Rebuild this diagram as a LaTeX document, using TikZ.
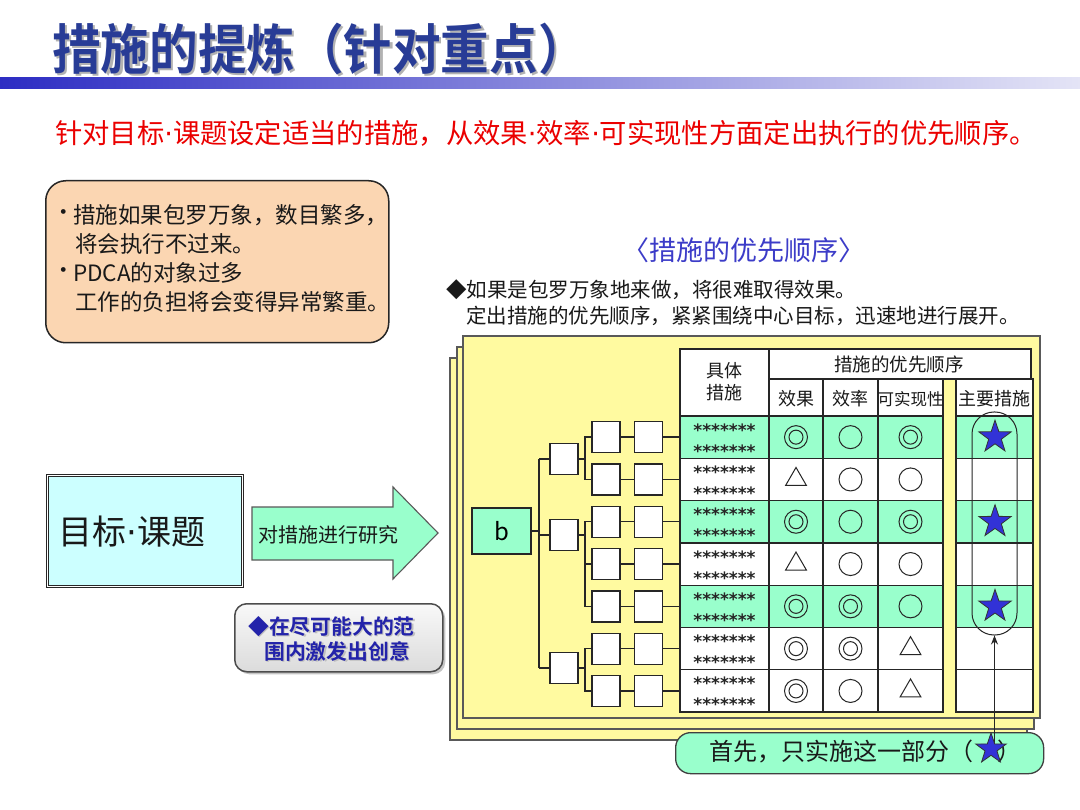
\documentclass[tikz,border=0pt]{standalone}
\usepackage{fontspec}
\setmainfont{Noto Sans CJK SC}[BoldFont={Noto Sans CJK SC Bold}]
\newfontfamily\dejavu{DejaVu Sans}[BoldFont={DejaVu Sans Bold}]
\usetikzlibrary{shapes.geometric,arrows.meta,shadows}
\definecolor{titleblue}{RGB}{40,60,150}
\definecolor{barL}{RGB}{45,45,195}
\definecolor{barM}{RGB}{140,140,215}
\definecolor{barR}{RGB}{228,228,246}
\definecolor{subred}{RGB}{235,0,0}
\definecolor{peach}{RGB}{251,214,178}
\definecolor{cyanbox}{RGB}{204,255,255}
\definecolor{mint}{RGB}{153,255,204}
\definecolor{paperyellow}{RGB}{255,250,160}
\definecolor{starblue}{RGB}{50,50,215}
\definecolor{headblue}{RGB}{60,60,200}
\definecolor{calloutblue}{RGB}{35,35,170}
\newcommand\fsz[2]{\fontsize{#1}{#2}\selectfont}
\newcommand\md{{\dejavu ·}}
\newcommand\shadowed[3]{\rlap{\hspace{#2}\raisebox{-#2}{\color{#3}#1}}#1}
\begin{document}
\begin{tikzpicture}[x=1pt,y=-1pt,
  tbl/.style={draw=black!85, line width=1.3},
  paper/.style={draw=black!65, fill=paperyellow, line width=1.2},
  tbox/.style={draw=black!85, fill=white, line width=1.3, minimum width=28, minimum height=31, inner sep=0},
  conn/.style={draw=black!85, line width=1.4},
  oc/.style={circle, draw=black!85, line width=1, minimum size=23, inner sep=0},
  dc/.style={oc, path picture={\draw[line width=1] (path picture bounding box.center) circle (7pt);}},
  tr/.style={regular polygon, regular polygon sides=3, draw=black!85, line width=1, minimum size=24, inner sep=0},
  bstar/.style={star, star points=5, star point ratio=2.55, minimum size=34, inner sep=0, fill=starblue, draw=black!80, line width=0.8},
  ast/.style={font=\dejavu\bfseries\fsz{17}{19}, anchor=base, inner sep=0, text=black!85},
  txt/.style={inner sep=0, text=black!90},
]
\useasboundingbox (0,0) rectangle (1080,810);
\fill[white] (0,0) rectangle (1080,810);

% title
\node[anchor=west, inner sep=0, text=titleblue, font=\bfseries\fsz{54}{60}] (title) at (52,50) {\scalebox{0.9}[1]{\shadowed{措施的提炼（针对重点）}{2.5pt}{black!30}}};
\shade[left color=barL, middle color=barM, right color=barR] (0,78) rectangle (1080,89);

% subtitle
\node[anchor=west, inner sep=0, text=subred, font=\fsz{27.3}{31}] (sub) at (55,133) {针对目标\md 课题设定适当的措施，从效果\md 效率\md 可实现性方面定出执行的优先顺序。};

% orange box
\node[draw=black!85, fill=peach, rounded corners=20, line width=1.5, minimum width=343, minimum height=162, anchor=north west] (obox) at (45,180) {};
\node[txt, anchor=west, font=\fsz{22.5}{26}] (od1) at (52,215) {·};
\node[txt, anchor=west, font=\fsz{22.5}{26}] (ol1) at (73,215) {措施如果包罗万象，数目繁多，};
\node[txt, anchor=west, font=\fsz{22.5}{26}] (ol2) at (75,244) {将会执行不过来。};
\node[txt, anchor=west, font=\fsz{22.5}{26}] (od3) at (52,273) {·};
\node[txt, anchor=west, font=\fsz{22.5}{26}] (ol3) at (73,273) {PDCA的对象过多};
\node[txt, anchor=west, font=\fsz{22.5}{26}] (ol4) at (75,302) {工作的负担将会变得异常繁重。};

% right heading
\node[inner sep=0, text=headblue, font=\fsz{27}{30}] (prio) at (744,250) {〈措施的优先顺序〉};
\node[txt, anchor=west, font=\fsz{20.5}{24}] (dl1) at (446,290) {◆如果是包罗万象地来做，将很难取得效果。};
\node[txt, anchor=west, font=\fsz{20.5}{24}] (dl2) at (466,316) {定出措施的优先顺序，紧紧围绕中心目标，迅速地进行展开。};

% goal box
\node[draw=black!85, double, double distance=1.6, line width=0.9, fill=cyanbox, minimum width=195, minimum height=111, anchor=north west] (goal) at (47,475) {};
\node[txt, anchor=west, font=\fsz{34}{40}] (goaltxt) at (58,532) {目标\md 课题};

% block arrow
\draw[fill=mint, draw=black!65, line width=1.1] (252,507) -- (393,507) -- (393,487) -- (438,533) -- (393,579) -- (393,560) -- (252,560) -- cycle;
\node[txt, anchor=west, font=\fsz{20}{24}] (arrtxt) at (258,535) {对措施进行研究};

% gray callout
\node[draw=black!70, line width=1.5, rounded corners=12, top color=gray!5, bottom color=gray!28, drop shadow={shadow xshift=2.5pt, shadow yshift=-2.5pt, fill=black!45}, minimum width=208, minimum height=68, anchor=north west] (gcall) at (234,603) {};
\node[inner sep=0, anchor=west, text=calloutblue, font=\bfseries\fsz{20.8}{24}] (gc1) at (248,627) {\shadowed{◆在尽可能大的范}{1.5pt}{black!25}};
\node[inner sep=0, anchor=west, text=calloutblue, font=\bfseries\fsz{20.8}{24}] (gc2) at (264,652) {\shadowed{围内激发出创意}{1.5pt}{black!25}};

% paper stack
\draw[paper] (450,358) rectangle (1027,740);
\draw[paper] (457,347) rectangle (1034,729);
\draw[paper] (463,336) rectangle (1040,718);

% table header
\draw[tbl, fill=white] (680,349) rectangle (769,416);
\draw[tbl, fill=white] (769,349) rectangle (1031,379);
\draw[tbl, fill=white] (769,379) rectangle (823,416);
\draw[tbl, fill=white] (823,379) rectangle (878,416);
\draw[tbl, fill=white] (878,379) rectangle (943,416);
\draw[tbl, fill=white] (956,379) rectangle (1033,416);
\node[txt, align=center, font=\fsz{18}{22}] (hA) at (724.5,382) {具体\\措施};
\node[txt, font=\fsz{18.5}{22}] (hB) at (899,364) {措施的优先顺序};
\node[txt, font=\fsz{18}{22}] (hC1) at (796,399) {效果};
\node[txt, font=\fsz{18}{22}] (hC2) at (850.5,399) {效率};
\node[txt, font=\fsz{16.5}{22}] (hC3) at (910.5,399) {可实现性};
\node[txt, font=\fsz{18}{22}] (hC4) at (994.5,399) {主要措施};

% table rows
\foreach \i/\c in {1/mint,2/white,3/mint,4/white,5/mint,6/white,7/white}{
  \draw[tbl, fill=\c] (680,{416+42.3*(\i-1)}) rectangle (769,{416+42.3*\i});
  \draw[tbl, fill=\c] (769,{416+42.3*(\i-1)}) rectangle (823,{416+42.3*\i});
  \draw[tbl, fill=\c] (823,{416+42.3*(\i-1)}) rectangle (878,{416+42.3*\i});
  \draw[tbl, fill=\c] (878,{416+42.3*(\i-1)}) rectangle (943,{416+42.3*\i});
  \draw[tbl, fill=\c] (956,{416+42.3*(\i-1)}) rectangle (1033,{416+42.3*\i});
  \node[ast] (asta\i) at (724.5,{416+42.3*(\i-0.5)-1}) {*******};
  \node[ast] (astb\i) at (724.5,{416+42.3*(\i-0.5)+20}) {*******};
}
% symbols
\foreach \i/\a/\b/\c in {1/dc/oc/dc,2/tr/oc/oc,3/dc/oc/dc,4/tr/oc/oc,5/dc/dc/oc,6/dc/dc/tr,7/dc/oc/tr}{
  \node[\a] (sa\i) at (796,{416+42.3*(\i-0.5)}) {};
  \node[\b] (sb\i) at (850.5,{416+42.3*(\i-0.5)}) {};
  \node[\c] (sc\i) at (910.5,{416+42.3*(\i-0.5)}) {};
}
% stars in main column
\node[bstar] (star1) at (995,{416+42.3*0.5}) {};
\node[bstar] (star3) at (995,{416+42.3*2.5}) {};
\node[bstar] (star5) at (995,{416+42.3*4.5}) {};
\node[draw=black!85, line width=1, rounded corners=22, minimum width=45, minimum height=223, inner sep=0] (cap) at (994.5,523.5) {};

% tree
\node[tbox, fill=mint, minimum width=59, minimum height=46, font=\fsz{24}{28}] (b) at (501.5,531) {b};
\node[tbox] (A1) at (564,459) {};
\node[tbox] (A2) at (564,535) {};
\node[tbox] (A3) at (564,668) {};
\foreach \i in {1,...,7}{
  \node[tbox] (B\i) at (606,{416+42.3*(\i-0.5)}) {};
  \node[tbox] (C\i) at (648.5,{416+42.3*(\i-0.5)}) {};
  \coordinate (T\i) at (680,{416+42.3*(\i-0.5)});
  \draw[conn] (B\i) -- (C\i);
  \draw[conn] (C\i) -- (T\i);
}
\coordinate (v1) at (539,459);
\coordinate (v3) at (539,668);
\coordinate (j1) at (585,0);
\draw[conn] (v1) -- (v3);
\draw[conn] (b.east) -- (b.east -| v1);
\draw[conn] (v1) -- (A1.west);
\draw[conn] (A2.west -| v1) -- (A2.west);
\draw[conn] (v3) -- (A3.west);
\draw[conn] (A1.east) -- (A1.east -| j1);
\draw[conn] (B1.west) -| (j1 |- B2.west) -- (B2.west);
\draw[conn] (A2.east) -- (A2.east -| j1);
\draw[conn] (B3.west) -| (j1 |- B5.west) -- (B5.west);
\draw[conn] (B4.west -| j1) -- (B4.west);
\draw[conn] (A3.east) -- (A3.east -| j1);
\draw[conn] (B6.west) -| (j1 |- B7.west) -- (B7.west);

% bottom callout
\node[draw=black!75, line width=1.3, fill=mint, rounded corners=15, minimum width=368, minimum height=41, anchor=north west] (bcall) at (675,732) {};
\node[txt, anchor=west, font=\fsz{24}{28}] (bctxt) at (709,752) {首先，只实施这一部分（　）};
\coordinate (arrstart) at (994.5,749);
\draw[line width=1, draw=black!85, -{Stealth[length=9pt,width=7pt]}] (arrstart) -- (cap.south);
\node[bstar, minimum size=32] (bstar) at (991,749) {};
\end{tikzpicture}
\end{document}
